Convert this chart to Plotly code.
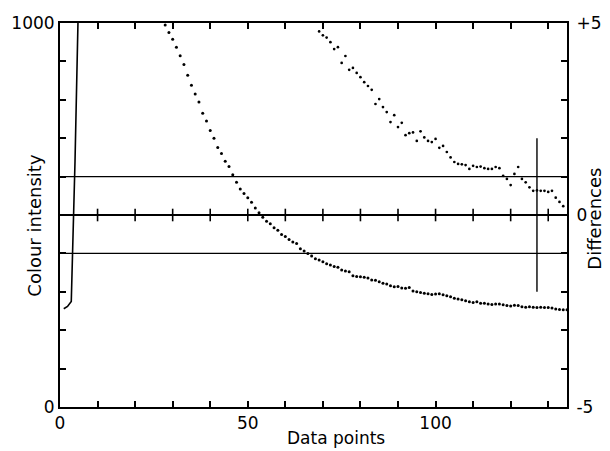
import plotly.graph_objects as go

# ---------------- data ----------------
# Colour intensity (left axis): initial steep rise (drawn as a line), then decay (dots)
rise_x = [1, 2, 3, 4, 5]
rise_y = [256, 262, 275, 640, 1100]

decay_x = list(range(28, 136))
decay_y = [995, 975, 958, 937, 915, 892, 864, 838, 815, 794,
           765, 745, 720, 700, 676, 660, 640, 626, 605, 585,
           568, 556, 545, 533, 518, 506, 494, 484, 477, 467,
           460, 449, 444, 436, 430, 426, 412, 406, 400, 393,
           386, 383, 378, 373, 370, 366, 364, 357, 354, 352,
           342, 340, 339, 338, 336, 331, 330, 326, 322, 320,
           316, 313, 314, 310, 309, 311, 302, 300, 298, 296,
           295, 293, 294, 295, 292, 290, 287, 283, 281, 279,
           277, 274, 272, 274, 270, 270, 268, 267, 268, 268,
           266, 264, 263, 265, 264, 261, 260, 261, 260, 259,
           260, 259, 259, 258, 255, 254, 253, 253]

# Differences (right axis)
diff_x = list(range(69, 135))
diff_y = [4.78, 4.68, 4.62, 4.50, 4.32, 4.37, 3.96, 4.14, 3.78, 3.83,
          3.70, 3.59, 3.46, 3.36, 3.26, 2.89, 3.02, 2.81, 2.68, 2.42,
          2.60, 2.29, 2.40, 2.08, 2.13, 2.15, 1.93, 2.18, 2.02, 1.93,
          1.90, 1.98, 1.75, 1.80, 1.64, 1.50, 1.38, 1.33, 1.32, 1.30,
          1.20, 1.28, 1.25, 1.26, 1.22, 1.20, 1.20, 1.25, 1.22, 1.02,
          0.94, 0.78, 1.07, 1.25, 0.94, 0.85, 0.72, 0.63, 0.64, 0.63,
          0.63, 0.60, 0.63, 0.45, 0.34, 0.23]

x_ticks = list(range(0, 136, 10))
x_labels = {0: "0", 50: "50", 100: "100"}
y_ticks = list(range(0, 1001, 100))
y_labels = {0: "0", 1000: "1000"}
d_ticks = list(range(-5, 6))
d_labels = {-5: "-5", 0: "0", 5: "+5"}

ref_lines = [1, -1]          # horizontal reference lines (differences)
cursor_x = 127               # vertical cursor position
cursor_span = [-2, 2]        # cursor extent (differences)

# ---------------- figure ----------------
FONT = "DejaVu Sans"
fig = go.Figure()

fig.add_trace(go.Scatter(x=rise_x, y=rise_y, mode="lines",
                         line=dict(color="black", width=1.6),
                         showlegend=False, hoverinfo="skip"))
fig.add_trace(go.Scatter(x=decay_x, y=decay_y, mode="markers",
                         marker=dict(color="black", size=3),
                         cliponaxis=True, showlegend=False))
fig.add_trace(go.Scatter(x=diff_x, y=diff_y, mode="markers", yaxis="y2",
                         marker=dict(color="black", size=2.7),
                         cliponaxis=True, showlegend=False))
# cross ticks on the zero line
fig.add_trace(go.Scatter(x=x_ticks[1:], y=[0] * (len(x_ticks) - 1), yaxis="y2",
                         mode="markers",
                         marker=dict(symbol="line-ns-open", size=9, color="black",
                                     line=dict(color="black", width=1.6)),
                         showlegend=False, hoverinfo="skip"))

shapes = []
for v in ref_lines:
    shapes.append(dict(type="line", xref="paper", yref="y2", x0=0, x1=1, y0=v, y1=v,
                       line=dict(color="black", width=1.4)))
shapes.append(dict(type="line", xref="paper", yref="y2", x0=0, x1=1, y0=0, y1=0,
                   line=dict(color="black", width=1.8)))
shapes.append(dict(type="line", xref="x", yref="y2", x0=cursor_x, x1=cursor_x,
                   y0=cursor_span[0], y1=cursor_span[1],
                   line=dict(color="black", width=1.4)))

axis_common = dict(ticks="inside", ticklen=6, tickwidth=1.6, tickcolor="black",
                   showline=True, linewidth=2, linecolor="black",
                   showgrid=False, zeroline=False, automargin=False,
                   tickfont=dict(size=17))

# the page body adds an 8 px offset, so the figure is slightly smaller
fig.update_layout(
    width=602, height=443,
    margin=dict(l=52, r=43, t=15, b=44),
    paper_bgcolor="white", plot_bgcolor="white",
    font=dict(family=FONT, size=17, color="black"),
    shapes=shapes,
    xaxis=dict(range=[0, 135], tickvals=x_ticks,
               ticktext=[x_labels.get(t, "") for t in x_ticks],
               mirror="ticks", **axis_common),
    yaxis=dict(range=[0, 1000], tickvals=y_ticks,
               ticktext=[y_labels.get(t, "") for t in y_ticks],
               **axis_common),
    yaxis2=dict(range=[-5, 5], overlaying="y", side="right", tickvals=d_ticks,
                ticktext=[d_labels.get(t, "") for t in d_ticks],
                ticklabelstandoff=4, **axis_common),
    annotations=[
        dict(text="Data points", xref="paper", yref="paper", x=0.544, y=-0.05,
             xanchor="center", yanchor="top", showarrow=False, font=dict(size=17)),
        dict(text="Colour intensity", xref="paper", yref="paper", x=-0.05, y=0.474,
             xanchor="center", yanchor="middle", textangle=-90, showarrow=False,
             font=dict(size=18)),
        dict(text="Differences", xref="paper", yref="paper", x=1.055, y=0.49,
             xanchor="center", yanchor="middle", textangle=-90, showarrow=False,
             font=dict(size=18)),
    ],
)

fig.write_html("out.html")
